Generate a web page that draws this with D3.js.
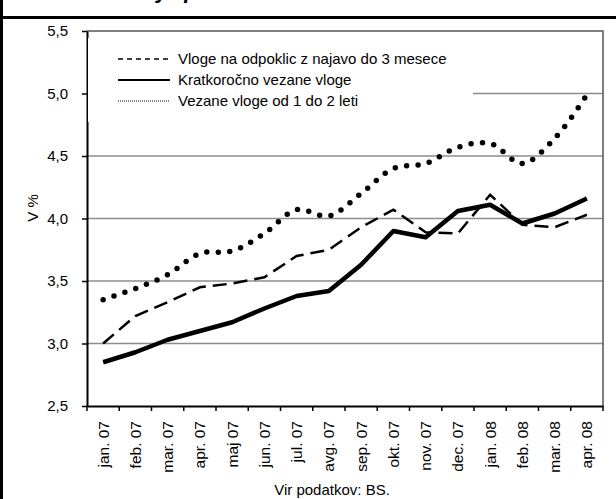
<!DOCTYPE html>
<html>
<head>
<meta charset="utf-8">
<script src="https://cdn.jsdelivr.net/npm/d3@7"></script>
<style>
  body { margin: 0; background: #fff; }
  text { font-family: "Liberation Sans", Arial, sans-serif; fill: #000; }
</style>
</head>
<body>
<script>
// Width and Height
const w = 616;
const h = 499;

// months on x axis
const categories = ["jan. 07", "feb. 07", "mar. 07", "apr. 07", "maj 07", "jun. 07",
                    "jul. 07", "avg. 07", "sep. 07", "okt. 07", "nov. 07", "dec. 07",
                    "jan. 08", "feb. 08", "mar. 08", "apr. 08"];

// series (V %)
const odpoklic    = [3.00, 3.22, 3.33, 3.45, 3.48, 3.53, 3.70, 3.75, 3.93, 4.07, 3.89, 3.88, 4.19, 3.95, 3.93, 4.03];
const kratkorocno = [2.85, 2.93, 3.03, 3.10, 3.17, 3.28, 3.38, 3.42, 3.63, 3.90, 3.85, 4.06, 4.11, 3.96, 4.04, 4.16];
const vezane      = [3.35, 3.44, 3.55, 3.72, 3.74, 3.88, 4.07, 4.02, 4.20, 4.40, 4.44, 4.57, 4.60, 4.44, 4.64, 4.99];

const seriesNames = ["Vloge na odpoklic z najavo do 3 mesece",
                     "Kratkoročno vezane vloge",
                     "Vezane vloge od 1 do 2 leti"];

const yTicks = [2.5, 3.0, 3.5, 4.0, 4.5, 5.0, 5.5];

// plot box
const plotL = 87, plotR = 603, plotT = 31, plotB = 406;

const x = d3.scaleBand().domain(categories).range([plotL, plotR]);
const y = d3.scaleLinear().domain([2.5, 5.5]).range([plotB, plotT]);

const svg = d3.select("body")
              .append("svg")
              .attr("width", w)
              .attr("height", h);

// clipped title on top
svg.append("text")
   .attr("x", 156)
   .attr("y", -2)
   .style("font-size", "22px")
   .style("font-weight", "bold")
   .style("font-style", "italic")
   .style("word-spacing", "10px")
   .text("y p");

// outer frame bits
svg.append("rect").attr("x", 0).attr("y", 16).attr("width", w).attr("height", 3)
   .attr("fill", "#000");
svg.append("rect").attr("x", 0).attr("y", 0).attr("width", 3).attr("height", h)
   .attr("fill", "#000");

// gridlines
svg.append("g")
   .selectAll("line")
   .data(yTicks.slice(1, -1))
   .enter()
   .append("line")
   .attr("x1", plotL).attr("x2", plotR)
   .attr("y1", d => y(d)).attr("y2", d => y(d))
   .attr("stroke", "#8c8c8c")
   .attr("stroke-width", 1.5);

// top and right frame of plot
svg.append("path")
   .attr("d", `M${plotL},${plotT}H${plotR}V${plotB}`)
   .attr("fill", "none")
   .attr("stroke", "#555")
   .attr("stroke-width", 1.5);

// y axis
const yAxis = d3.axisLeft(y)
                .tickValues(yTicks)
                .tickSize(5)
                .tickSizeOuter(0)
                .tickPadding(14)
                .tickFormat(d => d3.format(".1f")(d).replace(".", ","));

const gy = svg.append("g")
              .attr("transform", `translate(${plotL},0)`)
              .call(yAxis);
gy.select(".domain").attr("stroke-width", 2);
gy.selectAll(".tick line").attr("stroke-width", 1.5);
gy.selectAll("text").style("font-size", "15px").attr("font-family", null);

// x axis (labels at centres, ticks between months)
const xAxis = d3.axisBottom(x).tickSize(0).tickSizeOuter(0).tickPadding(0);
const gx = svg.append("g")
              .attr("transform", `translate(0,${plotB})`)
              .call(xAxis);
gx.select(".domain").attr("stroke-width", 2);
gx.selectAll("text")
  .attr("font-family", null)
  .style("font-size", "15.5px")
  .attr("text-anchor", "end")
  .attr("transform", "rotate(-90)")
  .attr("x", -15)
  .attr("y", 0)
  .attr("dy", "0.35em");

gx.selectAll("line.sep")
  .data(categories.map(c => x(c)).concat([x.range()[1]]))
  .enter()
  .append("line")
  .attr("class", "sep")
  .attr("x1", d => d).attr("x2", d => d)
  .attr("y1", 0).attr("y2", 5)
  .attr("stroke", "#000")
  .attr("stroke-width", 1.5);

// y label
svg.append("text")
   .attr("transform", "translate(38,208) rotate(-90)")
   .attr("text-anchor", "middle")
   .style("font-size", "15px")
   .text("V %");

// source
svg.append("text")
   .attr("x", 332)
   .attr("y", 495)
   .attr("text-anchor", "middle")
   .style("font-size", "15px")
   .text("Vir podatkov: BS.");

// lines
const cx = (d, i) => x(categories[i]) + x.bandwidth() / 2;

const straight = d3.line().x(cx).y(d => y(d));
const smooth = d3.line().x(cx).y(d => y(d)).curve(d3.curveCatmullRom.alpha(0.5));

svg.append("path")
   .attr("d", straight(odpoklic))
   .attr("fill", "none")
   .attr("stroke", "#000")
   .attr("stroke-width", 2.5)
   .attr("stroke-dasharray", "14,7");

svg.append("path")
   .attr("d", straight(kratkorocno))
   .attr("fill", "none")
   .attr("stroke", "#000")
   .attr("stroke-width", 4.5)
   .attr("stroke-linejoin", "round");

svg.append("path")
   .attr("d", smooth(vezane))
   .attr("fill", "none")
   .attr("stroke", "#000")
   .attr("stroke-width", 5.5)
   .attr("stroke-linecap", "round")
   .attr("stroke-dasharray", "0,11.5");

// legend (white box covers grid)
const lg = svg.append("g");
lg.append("rect")
  .attr("x", plotL + 1).attr("y", 38)
  .attr("width", 385).attr("height", 84)
  .attr("fill", "#fff");

const legendStyles = [
    { dash: "5,4", width: 1.5 },
    { dash: null, width: 2 },
    { dash: "1,1", width: 1 }
];

seriesNames.forEach(function(name, i) {
    let yy = 59 + i * 21;
    lg.append("line")
      .attr("x1", 118).attr("x2", 170)
      .attr("y1", yy).attr("y2", yy)
      .attr("stroke", "#000")
      .attr("stroke-width", legendStyles[i].width)
      .attr("stroke-dasharray", legendStyles[i].dash);
    lg.append("text")
      .attr("x", 178).attr("y", yy)
      .attr("dy", "0.35em")
      .style("font-size", "15px")
      .text(name);
});
</script>
</body>
</html>
